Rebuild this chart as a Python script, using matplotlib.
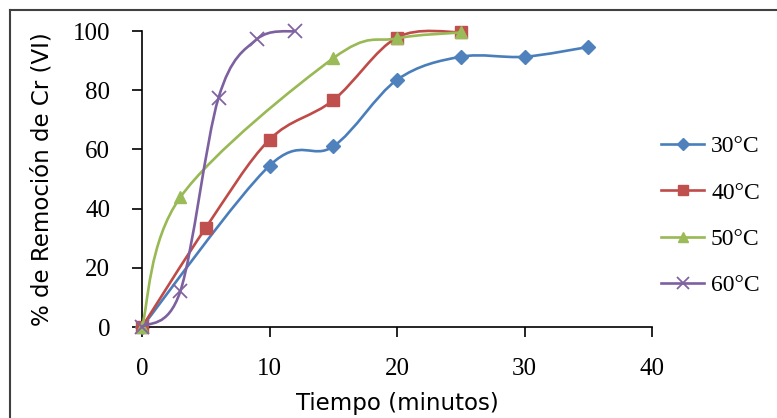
import numpy as np
import matplotlib
matplotlib.use("Agg")
import matplotlib.pyplot as plt
from matplotlib.path import Path
from matplotlib.patches import PathPatch
from matplotlib.lines import Line2D

# data
t30 = [0, 10, 15, 20, 25, 30, 35]
r30 = [0, 54.5, 61, 83.5, 91.3, 91.3, 94.6]
t40 = [0, 5, 10, 15, 20, 25]
r40 = [0, 33.5, 63.3, 76.6, 97.8, 99.6]
t50 = [0, 3, 15, 20, 25]
r50 = [0, 43.8, 90.8, 97.5, 99.5]
t60 = [0, 3, 6, 9, 12]
r60 = [0, 12, 77.4, 97.2, 100]

labels = ["30°C", "40°C", "50°C", "60°C"]
line_cols = ["#4A7EBB", "#BE4B48", "#98B954", "#7D60A0"]
mark_cols = ["#4F81BD", "#C0504D", "#9BBB59", "#8064A2"]
markers = ["D", "s", "^", "x"]
msizes = [7, 9, 9, 10]


def smooth_path(x, y):
    # Excel style smoothed line: cubic bezier segments through the points
    p = np.column_stack([x, y]).astype(float)
    n = len(p)
    verts = [p[0]]
    codes = [Path.MOVETO]
    for i in range(n - 1):
        p0 = p[max(i - 1, 0)]
        p1 = p[i]
        p2 = p[i + 1]
        p3 = p[min(i + 2, n - 1)]
        verts += [p1 + (p2 - p0) / 6, p2 - (p3 - p1) / 6, p2]
        codes += [Path.CURVE4] * 3
    return Path(verts, codes)


fig = plt.figure(figsize=(7.77, 4.18), dpi=100)
ax = fig.add_axes([142 / 777, 1 - 327 / 418, 510 / 777, 296 / 418])

series = [(t30, r30), (t40, r40), (t50, r50), (t60, r60)]
handles = []
for i, (t, r) in enumerate(series):
    patch = PathPatch(smooth_path(t, r), fill=False, edgecolor=line_cols[i],
                      lw=1.9, zorder=2 + i, clip_on=False, capstyle="round")
    ax.add_patch(patch)
    if markers[i] == "x":
        ax.plot(t, r, ls="none", marker="x", ms=msizes[i], mew=1.3,
                color=mark_cols[i], zorder=2.5 + i, clip_on=False)
    else:
        ax.plot(t, r, ls="none", marker=markers[i], ms=msizes[i],
                mfc=mark_cols[i], mec=mark_cols[i], zorder=2.5 + i, clip_on=False)
    handles.append(Line2D([], [], color=line_cols[i], lw=1.9, marker=markers[i],
                          ms=msizes[i] * 0.85, mfc=mark_cols[i], mec=mark_cols[i],
                          mew=1.3 if markers[i] == "x" else 1))

ax.set_xlim(0, 40)
ax.set_ylim(0, 100)
ax.set_xticks([0, 10, 20, 30, 40])
ax.set_yticks([0, 20, 40, 60, 80, 100])
for s in ["top", "right"]:
    ax.spines[s].set_visible(False)
for s in ["left", "bottom"]:
    ax.spines[s].set_linewidth(1.2)
ax.tick_params(direction="out", length=7, width=1.2, labelsize=18)
ax.tick_params(axis="y", pad=16)
ax.tick_params(axis="x", pad=15)
for lab in ax.get_xticklabels() + ax.get_yticklabels():
    lab.set_fontfamily("Liberation Serif")

ax.set_xlabel("Tiempo (minutos)", fontsize=16.5, fontfamily="DejaVu Sans", labelpad=9)
ax.set_ylabel("% de Remoción de Cr (VI)", fontsize=16.5, fontfamily="DejaVu Sans", labelpad=14)

leg = fig.legend(handles, labels, loc="center left",
                 bbox_to_anchor=(652 / 777, 1 - 216 / 418),
                 frameon=False, handlelength=1.8, handletextpad=0.3,
                 labelspacing=1.05, borderaxespad=0,
                 prop={"family": "Liberation Serif", "size": 17})

# outer chart border (only top and left edge visible)
fig.add_artist(Line2D([10 / 777, 1.01], [1 - 9.5 / 418, 1 - 9.5 / 418],
                      transform=fig.transFigure, color="#404040", lw=1.5))
fig.add_artist(Line2D([10 / 777, 10 / 777], [1 - 9.5 / 418, -0.01],
                      transform=fig.transFigure, color="#404040", lw=1.5))

fig.savefig("out.png", dpi=100)
